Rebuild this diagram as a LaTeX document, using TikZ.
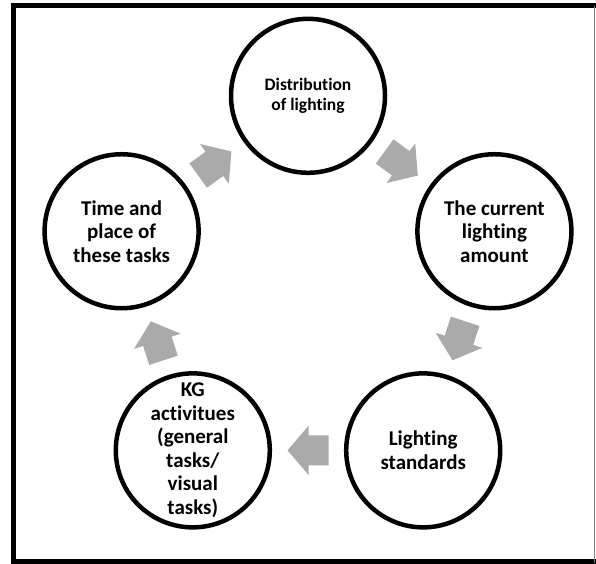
\documentclass[tikz,border=0pt]{standalone}
\usepackage{fontspec}
\setmainfont[Ligatures={NoCommon}]{Carlito}
\usetikzlibrary{calc}
\definecolor{arrowgray}{RGB}{170,170,170}
\definecolor{framegray}{RGB}{128,128,128}
\tikzset{
  circ/.style={circle, draw=black, line width=4.5pt, minimum size=154pt, inner sep=0pt},
  bigtext/.style={align=center, font=\bfseries\fontsize{21}{23.5}\selectfont, inner sep=0pt},
  smalltext/.style={align=center, font=\bfseries\fontsize{17.5}{20.5}\selectfont, inner sep=0pt},
  barrow/.pic={\fill[arrowgray] (-20.5,15) -- (-0.5,15) -- (-0.5,24.5) -- (20.5,0) -- (-0.5,-24.5) -- (-0.5,-15) -- (-20.5,-15) -- cycle;}
}
\begin{document}
\begin{tikzpicture}[x=1pt,y=1pt]
\useasboundingbox (0,0) rectangle (596,563);
\fill[white] (0,0) rectangle (596,563);
% frame
\draw[line width=5pt, line join=miter] (600,557) -- (13.5,557) -- (13.5,2) -- (600,2);
\draw[framegray, line width=1pt] (594.5,557) -- (594.5,0);
% circles
\coordinate (O) at (308,271.2);
\node[circ] (c1) at ($(O)+(90:196)$) {};
\node[circ] (c2) at ($(O)+(18:196)$) {};
\node[circ] (c3) at ($(O)+(-54:196)$) {};
\node[circ] (c4) at ($(O)+(-126:196)$) {};
\node[circ] (c5) at ($(O)+(162:196)$) {};
% texts
\node[smalltext] (t1) at (c1) {Distribution\\of lighting};
\node[bigtext] (t2) at (c2) {The current\\lighting\\amount};
\node[bigtext] (t3) at (c3) {Lighting\\standards};
\node[bigtext] (t4) at (c4) {KG\\activitues\\(general\\tasks/\\visual\\tasks)};
\node[bigtext] (t5) at (c5) {Time and\\place of\\these tasks};
% block arrows
\foreach \a/\b in {c1/c2, c2/c3, c3/c4, c4/c5, c5/c1}{
  \path let \p1=($(\b)-(\a)$), \n1={atan2(\y1,\x1)} in
    ($(\a)!0.5!(\b)$) pic[rotate=\n1] {barrow};
}
\end{tikzpicture}
\end{document}
